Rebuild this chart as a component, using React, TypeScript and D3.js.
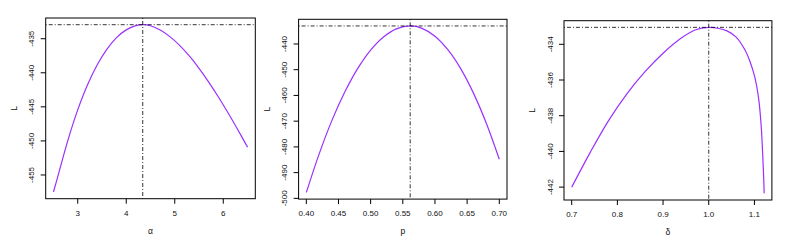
import React from "react";
import * as d3 from "d3";

// ---------- data ----------
const alphaX = [2.5, 2.6, 2.8, 3.0, 3.2, 3.4, 3.6, 3.8, 4.0, 4.2, 4.34, 4.5, 4.7, 4.9, 5.1, 5.3, 5.5, 5.7, 5.9, 6.1, 6.3, 6.5];
const alphaL = [-457.5, -454.95, -449.85, -445.45, -441.8, -438.85, -436.55, -434.84, -433.7, -433.07, -432.94, -433.1, -433.72, -434.69, -435.97, -437.53, -439.34, -441.36, -443.56, -445.91, -448.37, -450.91];
const alphaHat = 4.34;
const alphaMax = -432.94;
const alphaTicks = [3, 4, 5, 6];
const alphaLTicks = [-455, -450, -445, -440, -435];

const pX = [0.40, 0.42, 0.44, 0.46, 0.48, 0.50, 0.52, 0.54, 0.5615, 0.58, 0.60, 0.62, 0.64, 0.66, 0.68, 0.70];
const pL = [-497.7, -482.7, -469.6, -458.6, -449.5, -442.4, -437.3, -434.15, -433.0, -433.92, -437.0, -442.24, -449.6, -459.2, -470.9, -484.8];
const pHat = 0.5615;
const pMax = -433.0;
const pTicks = [0.40, 0.45, 0.50, 0.55, 0.60, 0.65, 0.70];
const pLTicks = [-500, -490, -480, -470, -460, -450, -440];

const deltaX = [0.70, 0.74, 0.78, 0.82, 0.86, 0.90, 0.94, 0.97, 1.00, 1.02, 1.04, 1.06, 1.08, 1.09, 1.10, 1.105, 1.11, 1.115, 1.118, 1.12, 1.1214];
const deltaL = [-442.0, -440.08, -438.3, -436.8, -435.55, -434.5, -433.65, -433.2, -433.05, -433.1, -433.25, -433.6, -434.35, -434.95, -435.75, -436.35, -437.2, -438.65, -440.1, -441.3, -442.35];
const deltaHat = 1.0;
const deltaMax = -433.05;
const deltaTicks = [0.7, 0.8, 0.9, 1.0, 1.1];
const deltaLTicks = [-442, -440, -438, -436, -434];

const FONT = "'Liberation Sans', Arial, Helvetica, sans-serif";
const CURVE = "#9B30FF";

type PanelProps = {
  xs: number[];
  ys: number[];
  xHat: number;
  yMax: number;
  xTicks: number[];
  yTicks: number[];
  xFmt: (v: number) => string;
  xLabel: string;
  box: { left: number; right: number; top: number; bottom: number };
};

function ext(v: number[]): [number, number] {
  const lo = d3.min(v) as number;
  const hi = d3.max(v) as number;
  const pad = (hi - lo) * 0.04;
  return [lo - pad, hi + pad];
}

function Panel({ xs, ys, xHat, yMax, xTicks, yTicks, xFmt, xLabel, box }: PanelProps) {
  const x = d3.scaleLinear().domain(ext(xs)).range([box.left, box.right]);
  const y = d3.scaleLinear().domain(ext(ys)).range([box.bottom, box.top]);
  const pts: [number, number][] = xs.map((v, i) => [v, ys[i]]);
  const line = d3
    .line<[number, number]>()
    .x((d) => x(d[0]))
    .y((d) => y(d[1]))
    .curve(d3.curveCatmullRom.alpha(0.5));
  const cx = (box.left + box.right) / 2;
  const cy = (box.top + box.bottom) / 2;
  return (
    <g>
      <path d={line(pts) || ""} fill="none" stroke={CURVE} strokeWidth={1.2} />
      <line x1={box.left} x2={box.right} y1={y(yMax)} y2={y(yMax)} stroke="#000" strokeWidth={0.8} strokeDasharray="1,2,4,2" />
      <line x1={x(xHat)} x2={x(xHat)} y1={box.top} y2={box.bottom} stroke="#000" strokeWidth={0.8} strokeDasharray="1,2,4,2" />
      <rect x={box.left} y={box.top} width={box.right - box.left} height={box.bottom - box.top} fill="none" stroke="#000" strokeWidth={1} />
      {xTicks.map((t) => (
        <g key={"x" + t}>
          <line x1={x(t)} x2={x(t)} y1={box.bottom} y2={box.bottom + 5} stroke="#000" strokeWidth={1} />
          <text x={x(t)} y={box.bottom + 17} textAnchor="middle" fontSize={8} fontFamily={FONT} fill="#111">
            {xFmt(t)}
          </text>
        </g>
      ))}
      {yTicks.map((t) => (
        <g key={"y" + t}>
          <line x1={box.left - 5} x2={box.left} y1={y(t)} y2={y(t)} stroke="#000" strokeWidth={1} />
          <text
            transform={`translate(${box.left - 14},${y(t)}) rotate(-90)`}
            textAnchor="middle"
            dominantBaseline="central"
            fontSize={8}
            fontFamily={FONT}
            fill="#111"
          >
            {String(t)}
          </text>
        </g>
      ))}
      <text x={cx} y={box.bottom + 35} textAnchor="middle" fontSize={8.5} fontFamily={FONT} fill="#111">
        {xLabel}
      </text>
      <text
        transform={`translate(${box.left - 32},${cy}) rotate(-90)`}
        textAnchor="middle"
        dominantBaseline="central"
        fontSize={8.5}
        fontFamily={FONT}
        fill="#111"
      >
        L
      </text>
    </g>
  );
}

export default function App() {
  return (
    <svg
      width={786}
      height={244}
      style={{ position: "absolute", left: 0, top: 0, background: "#fff" }}
    >
      <rect x={0} y={0} width={786} height={244} fill="#fff" />
      <Panel
        xs={alphaX}
        ys={alphaL}
        xHat={alphaHat}
        yMax={alphaMax}
        xTicks={alphaTicks}
        yTicks={alphaLTicks}
        xFmt={(v) => d3.format("d")(v)}
        xLabel="α"
        box={{ left: 45.7, right: 255.3, top: 18.0, bottom: 198.7 }}
      />
      <Panel
        xs={pX}
        ys={pL}
        xHat={pHat}
        yMax={pMax}
        xTicks={pTicks}
        yTicks={pLTicks}
        xFmt={(v) => d3.format(".2f")(v)}
        xLabel="p"
        box={{ left: 298.6, right: 507.0, top: 19.3, bottom: 199.1 }}
      />
      <Panel
        xs={deltaX}
        ys={deltaL}
        xHat={deltaHat}
        yMax={deltaMax}
        xTicks={deltaTicks}
        yTicks={deltaLTicks}
        xFmt={(v) => d3.format(".1f")(v)}
        xLabel="δ"
        box={{ left: 564.0, right: 771.9, top: 20.7, bottom: 200.0 }}
      />
    </svg>
  );
}
